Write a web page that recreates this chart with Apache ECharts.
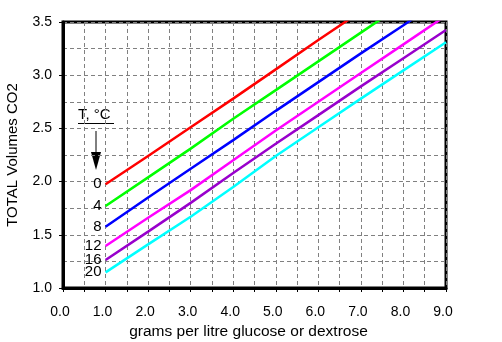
<!DOCTYPE html>
<html>
<head>
<meta charset="utf-8">
<script src="https://cdn.jsdelivr.net/npm/echarts@6/dist/echarts.min.js"></script>
<style>
html, body { margin: 0; padding: 0; background: #fff; }
#echart { width: 502px; height: 342px; }
</style>
</head>
<body>
<div id="echart"></div>
<script>
// grams per litre
var grams = [1, 2, 3, 4, 5, 6, 7, 8, 9];
// temperature labels, deg C
var temps = ['0', '4', '8', '12', '16', '20'];
// total volumes CO2 per temperature
var co2_0  = [1.975, 2.24, 2.51, 2.78, 3.055, 3.33, 3.60];
var co2_4  = [1.77, 2.04, 2.31, 2.59, 2.86, 3.13, 3.40, 3.67];
var co2_8  = [1.576, 1.85, 2.12, 2.39, 2.665, 2.935, 3.205, 3.47, 3.74];
var co2_12 = [1.395, 1.66, 1.92, 2.20, 2.48, 2.75, 3.02, 3.29, 3.56];
var co2_16 = [1.263, 1.53, 1.80, 2.08, 2.355, 2.625, 2.895, 3.16, 3.425];
var co2_20 = [1.147, 1.41, 1.67, 1.95, 2.24, 2.51, 2.78, 3.045, 3.31];

var allValues = [co2_0, co2_4, co2_8, co2_12, co2_16, co2_20];
var colors = ['#ff0000', '#00ff00', '#0000ff', '#ff00ff', '#9900cc', '#00ffff'];
var labelShift = [0, -1, 0, -5, -4, -4];

var font = 'Liberation Sans, Arial, sans-serif';
var dash = { color: '#808080', width: 1, type: [4, 3] };

var myChart = echarts.init(document.getElementById('echart'));

// label only the first point of each curve, on its left
var series = allValues.map(function (vals, i) {
  return {
    name: temps[i],
    type: 'line',
    data: vals.map(function (v, j) { return [grams[j], v]; }),
    showSymbol: true,
    symbol: 'circle',
    symbolSize: 0.01,
    clip: true,
    lineStyle: { color: colors[i], width: 2.5 },
    itemStyle: { color: colors[i] },
    label: {
      show: true,
      position: 'left',
      distance: 4,
      offset: [0, labelShift[i]],
      color: '#000',
      fontFamily: font,
      fontSize: 15,
      formatter: function (p) { return p.dataIndex === 0 ? temps[i] : ''; }
    },
    labelLayout: { hideOverlap: false },
    silent: true,
    animation: false
  };
});

var opt = {
  animation: false,
  grid: {
    left: 63, right: 56, top: 22, bottom: 54,
    outerBoundsMode: 'none',
    containLabel: false,
    show: true, borderColor: '#000', borderWidth: 3, backgroundColor: 'transparent'
  },
  xAxis: {
    type: 'value',
    min: 0, max: 9, interval: 1,
    name: 'grams per litre glucose or dextrose',
    nameLocation: 'middle',
    nameGap: 34,
    nameTextStyle: { color: '#000', fontFamily: font, fontSize: 15.5, padding: [0, 12, 0, 0] },
    axisLine: { show: true, onZero: false, lineStyle: { color: '#000', width: 3 } },
    axisTick: { show: true, length: 4, lineStyle: { color: '#000', width: 1 } },
    minorTick: { show: true, splitNumber: 2, length: 4, lineStyle: { color: '#000', width: 1 } },
    axisLabel: {
      margin: 17, color: '#000', fontFamily: font, fontSize: 14,
      padding: [0, 6, 0, 0],
      formatter: function (v) { return v.toFixed(1); }
    },
    splitLine: { show: true, lineStyle: dash },
    minorSplitLine: { show: true, lineStyle: dash }
  },
  yAxis: {
    type: 'value',
    min: 1.0, max: 3.5, interval: 0.5,
    name: 'TOTAL Volumes CO2',
    nameLocation: 'middle',
    nameGap: 43,
    nameTextStyle: { color: '#000', fontFamily: font, fontSize: 15 },
    axisLine: { show: true, onZero: false, lineStyle: { color: '#000', width: 3 } },
    axisTick: { show: true, length: 4, lineStyle: { color: '#000', width: 1 } },
    axisLabel: {
      margin: 11, color: '#000', fontFamily: font, fontSize: 14,
      formatter: function (v) { return v.toFixed(1); }
    },
    splitLine: { show: true, lineStyle: dash },
    minorTick: { show: false, splitNumber: 2 },
    minorSplitLine: { show: true, lineStyle: dash }
  },
  graphic: [
    {
      type: 'text', left: 78, top: 107, silent: true,
      style: { text: 'T, °C', fill: '#000', font: '15px ' + font }
    },
    {
      type: 'line', silent: true,
      shape: { x1: 78, y1: 123.5, x2: 114, y2: 123.5 },
      style: { stroke: '#000', lineWidth: 1 }
    },
    {
      type: 'line', silent: true,
      shape: { x1: 96, y1: 131, x2: 96, y2: 160 },
      style: { stroke: '#000', lineWidth: 1 }
    },
    {
      type: 'polygon', silent: true,
      shape: { points: [[91, 152], [101, 152], [96, 170]] },
      style: { fill: '#000' }
    }
  ],
  series: series
};

myChart.setOption(opt);
</script>
</body>
</html>
